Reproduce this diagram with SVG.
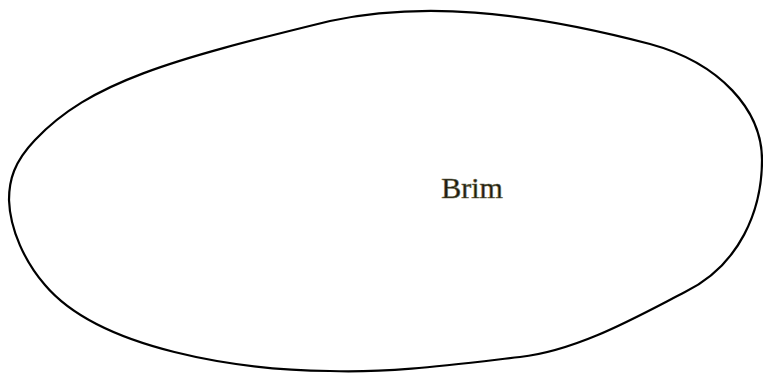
<svg xmlns="http://www.w3.org/2000/svg" width="763" height="373" viewBox="0 0 763 373">
<style>
.shape{fill:#fff;stroke:#000;stroke-width:2.2}
.label{font-family:'Liberation Serif','Tinos','DejaVu Serif',serif;font-size:30px;fill:#1a1a10;stroke:#6e6848;stroke-width:0.6;text-anchor:middle}
</style>
<rect width="763" height="373" fill="#fff"/>
<g id="brim">
<path class="shape" d="M 9,200 C 9,180 14,162 35,140 C 90,82 170,60 330,21 C 420,2 520,10 650,44 C 720,63 762,110 762,160 C 762,210 740,265 685,292 C 640,315 580,350 520,357 C 450,365 390,373 330,371 C 240,370 100,350 45,285 C 25,262 10,230 9,200 Z"/>
<text class="label" x="472" y="198">Brim</text>
</g>
<g id="connectors"/>
</svg>
